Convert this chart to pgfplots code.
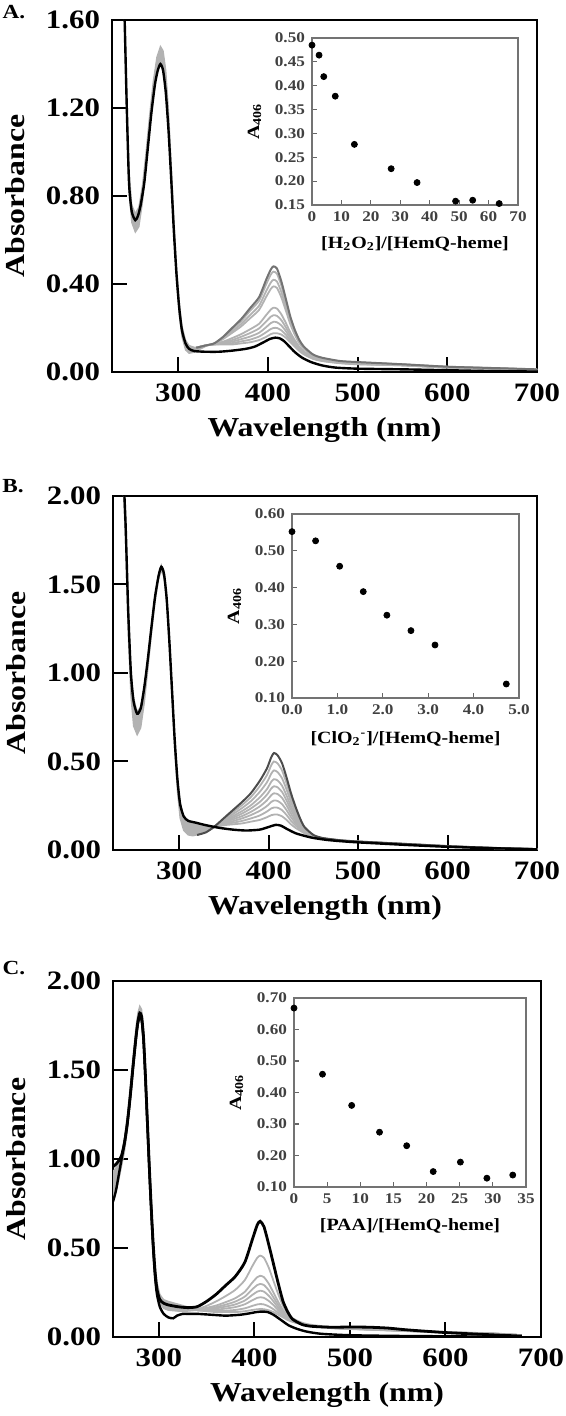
\documentclass[border=0pt]{standalone}
\usepackage{fontspec}
\setmainfont{Liberation Serif}[FakeStretch=1.16]
\usepackage{pgfplots}
\usepackage{pgfplotstable}
\pgfplotsset{compat=1.18}

\pgfplotsset{
 mainax/.style={scale only axis, xmax=700, xtick={300,400,500,600,700},
  tick align=inside, xtick pos=left, ytick pos=left, major tick length=7.5pt,
  axis line style={line width=1.2pt}, tick style={line width=1pt, black},
  /pgf/number format/assume math mode=true,
  ticklabel style={font=\fontsize{13.3}{14}\selectfont\bfseries},
  xticklabel style={yshift=-2.5pt},
  yticklabel style={xshift=-2.5pt, /pgf/number format/fixed, /pgf/number format/fixed zerofill, /pgf/number format/precision=2},
  label style={font=\fontsize{13.7}{15}\selectfont\bfseries},
  ylabel shift=3.5pt, xlabel shift=1pt,
  xlabel={Wavelength (nm)}, ylabel={Absorbance}, clip=true},
 insetax/.style={scale only axis, tick align=inside, xtick pos=left, ytick pos=left,
  major tick length=2.5pt, axis line style={line width=0.6pt, black!55},
  tick style={line width=0.6pt, black!60},
  /pgf/number format/assume math mode=true,
  ticklabel style={font=\fontsize{7.4}{8}\selectfont\bfseries, text=black!75},
  label style={font=\fontsize{8.6}{9}\selectfont\bfseries},
  xlabel shift=0.5pt,
  ylabel={A\textsubscript{406}}, clip=false,
  yticklabel style={/pgf/number format/fixed, /pgf/number format/fixed zerofill, /pgf/number format/precision=2}},
 mydots/.style={only marks, mark=*, mark size=1.5pt, black},
 grayln/.style={black!30, line width=0.9pt, smooth, tension=0.4, no markers},
 blackln/.style={black, line width=1.2pt, smooth, tension=0.4, no markers},
 band/.style={fill=black!30, draw=black!30, line width=0.6pt, no markers},
}

% ---------------- Panel A data ----------------
\pgfplotstableread{
wl a
238 1.95
240 1.62
242.5 1.20
245 0.86
248 0.73
252 0.69
255 0.71
258 0.76
262 0.86
266 1.02
270 1.18
274 1.31
277 1.37
280 1.40
283 1.37
286 1.27
289 1.10
292 0.88
295 0.64
298 0.44
301 0.29
304 0.19
308 0.13
312 0.105
318 0.095
330 0.092
345 0.092
360 0.097
375 0.105
385 0.115
395 0.135
402 0.150
408 0.156
413 0.153
418 0.140
424 0.115
430 0.090
438 0.065
448 0.045
460 0.030
475 0.020
500 0.015
550 0.012
600 0.008
650 0.004
700 0.002
}\finA
% UV band: upper edge left to right, then lower edge right to left
\pgfplotstableread{
wl a
236 2.10
240 1.65
242.5 1.25
245 0.92
248 0.76
252 0.72
256 0.75
260 0.85
264 1.00
268 1.17
272 1.32
276 1.43
280 1.48
283 1.46
286 1.37
289 1.19
292 0.95
295 0.70
298 0.48
301 0.32
304 0.21
308 0.145
312 0.120
318 0.112
325 0.115
330 0.120
330 0.115
325 0.105
318 0.090
312 0.085
308 0.10
304 0.16
301 0.26
298 0.42
295 0.63
292 0.88
289 1.12
286 1.31
283 1.39
280 1.41
276 1.38
272 1.28
268 1.12
264 0.94
260 0.77
256 0.66
252 0.635
248 0.68
245 0.82
242.5 1.15
240 1.58
236 2.05
}\uvA
\pgfplotstableread{
wl  t     g1    g2    g3    g4    g5    g6    g7    z
320 0.110 0.110 0.110 0.110 0.110 0.110 0.110 0.110 0.110
330 0.120 0.120 0.120 0.120 0.120 0.120 0.120 0.120 0.120
340 0.130 0.130 0.129 0.129 0.127 0.126 0.126 0.125 0.125
350 0.160 0.157 0.153 0.150 0.138 0.135 0.131 0.128 0.125
360 0.200 0.194 0.185 0.178 0.154 0.145 0.138 0.131 0.125
370 0.240 0.231 0.218 0.207 0.172 0.160 0.149 0.139 0.130
380 0.290 0.278 0.259 0.244 0.194 0.177 0.161 0.147 0.135
390 0.340 0.324 0.301 0.282 0.219 0.198 0.178 0.161 0.145
398 0.420 0.399 0.368 0.342 0.259 0.230 0.204 0.181 0.160
403 0.465 0.442 0.406 0.377 0.283 0.251 0.222 0.195 0.172
406 0.480 0.456 0.419 0.389 0.292 0.258 0.228 0.200 0.176
410 0.470 0.446 0.411 0.382 0.288 0.255 0.226 0.200 0.176
415 0.410 0.391 0.362 0.338 0.261 0.235 0.211 0.189 0.170
420 0.330 0.316 0.295 0.278 0.222 0.202 0.185 0.169 0.155
425 0.250 0.241 0.227 0.216 0.179 0.166 0.155 0.144 0.135
430 0.190 0.184 0.175 0.168 0.144 0.135 0.128 0.121 0.115
435 0.145 0.141 0.135 0.130 0.114 0.109 0.104 0.099 0.095
440 0.115 0.112 0.108 0.105 0.093 0.090 0.086 0.083 0.080
450 0.080 0.078 0.076 0.074 0.068 0.065 0.063 0.062 0.060
460 0.065 0.064 0.062 0.061 0.056 0.054 0.053 0.051 0.050
480 0.050 0.049 0.048 0.047 0.044 0.043 0.042 0.041 0.040
500 0.045 0.044 0.043 0.042 0.039 0.038 0.037 0.036 0.035
550 0.035 0.035 0.034 0.034 0.032 0.031 0.031 0.030 0.030
600 0.024 0.024 0.023 0.023 0.022 0.021 0.021 0.020 0.020
650 0.018 0.018 0.017 0.017 0.016 0.016 0.015 0.015 0.015
700 0.012 0.012 0.011 0.011 0.011 0.010 0.010 0.010 0.010
}\sorA
\pgfplotstableread{
x y
0 0.485
2.4 0.464
4.0 0.419
7.9 0.378
14.4 0.277
26.9 0.226
35.7 0.197
48.8 0.158
54.6 0.160
63.6 0.153
}\insA

% ---------------- Panel B data ----------------
\pgfplotstableread{
wl a
237 2.20
240 1.85
243 1.35
246 1.00
249 0.84
253 0.77
257 0.80
261 0.92
265 1.08
269 1.26
273 1.43
277 1.55
280 1.60
283 1.56
286 1.42
289 1.18
292 0.90
295 0.62
298 0.40
301 0.26
305 0.19
310 0.165
318 0.155
330 0.140
345 0.125
360 0.115
375 0.110
390 0.115
400 0.130
408 0.142
414 0.137
420 0.120
430 0.095
440 0.080
450 0.068
465 0.057
480 0.050
500 0.043
530 0.035
560 0.027
600 0.018
650 0.010
690 0.005
700 0.004
}\finB
\pgfplotstableread{
wl a
237 2.20
240 1.88
243 1.38
246 1.02
249 0.86
253 0.78
257 0.81
261 0.93
265 1.09
269 1.27
273 1.44
277 1.56
280 1.61
283 1.57
286 1.43
289 1.19
292 0.91
295 0.63
298 0.41
301 0.27
305 0.19
310 0.16
318 0.15
330 0.14
340 0.13
340 0.13
330 0.100
320 0.085
315 0.080
310 0.085
305 0.11
301 0.18
298 0.33
295 0.56
292 0.85
289 1.14
286 1.39
283 1.54
280 1.58
277 1.53
273 1.40
269 1.22
265 1.02
261 0.83
257 0.69
253 0.65
249 0.70
246 0.87
243 1.22
240 1.75
237 2.10
}\uvB
\pgfplotstableread{
wl  t     g1    g2    g3    g4    g5    g6    g7    z
320 0.085 0.086 0.086 0.087 0.087 0.088 0.088 0.089 0.090
330 0.100 0.101 0.103 0.104 0.105 0.107 0.108 0.109 0.110
340 0.135 0.134 0.134 0.133 0.132 0.132 0.131 0.131 0.130
350 0.180 0.175 0.169 0.163 0.158 0.154 0.149 0.145 0.140
360 0.225 0.214 0.202 0.191 0.182 0.173 0.163 0.154 0.145
370 0.270 0.253 0.236 0.219 0.205 0.191 0.178 0.164 0.150
380 0.320 0.298 0.275 0.252 0.234 0.215 0.197 0.178 0.160
390 0.390 0.360 0.328 0.297 0.271 0.246 0.221 0.195 0.170
398 0.460 0.422 0.382 0.343 0.312 0.280 0.248 0.217 0.185
403 0.525 0.480 0.432 0.386 0.348 0.310 0.272 0.235 0.197
406 0.548 0.500 0.450 0.400 0.360 0.320 0.280 0.240 0.200
410 0.535 0.489 0.440 0.393 0.354 0.316 0.277 0.239 0.200
415 0.490 0.449 0.405 0.363 0.328 0.294 0.259 0.225 0.190
420 0.410 0.377 0.342 0.308 0.280 0.253 0.225 0.198 0.170
425 0.320 0.296 0.271 0.246 0.226 0.205 0.185 0.165 0.145
430 0.245 0.228 0.211 0.194 0.180 0.166 0.153 0.139 0.125
435 0.180 0.170 0.160 0.150 0.142 0.134 0.126 0.118 0.110
440 0.130 0.125 0.120 0.115 0.111 0.107 0.103 0.099 0.095
450 0.085 0.084 0.082 0.081 0.080 0.079 0.077 0.076 0.075
460 0.068 0.067 0.067 0.066 0.065 0.065 0.064 0.064 0.063
480 0.055 0.055 0.054 0.054 0.053 0.053 0.053 0.052 0.052
500 0.048 0.048 0.047 0.047 0.047 0.046 0.046 0.046 0.045
550 0.035 0.035 0.035 0.034 0.034 0.034 0.034 0.033 0.033
600 0.022 0.022 0.022 0.021 0.021 0.021 0.021 0.020 0.020
650 0.012 0.012 0.012 0.012 0.011 0.011 0.011 0.011 0.011
700 0.005 0.005 0.005 0.005 0.005 0.005 0.005 0.005 0.005
}\sorB
\pgfplotstableread{
x y
0.00 0.552
0.52 0.527
1.05 0.458
1.57 0.389
2.09 0.325
2.62 0.283
3.15 0.244
4.72 0.138
}\insB

% ---------------- Panel C data ----------------
\pgfplotstableread{
wl a
252 0.957
255 0.97
258 0.99
261 1.02
264 1.09
267 1.20
270 1.35
273 1.52
276 1.68
278 1.77
280 1.82
282 1.80
284 1.68
286 1.46
288 1.21
290 0.96
292 0.73
294 0.53
296 0.37
298 0.27
301 0.21
305 0.19
310 0.18
320 0.17
330 0.165
340 0.17
350 0.20
360 0.24
370 0.29
380 0.34
390 0.42
398 0.55
403 0.63
406 0.650
410 0.62
415 0.52
420 0.41
425 0.30
430 0.20
435 0.14
440 0.10
450 0.07
460 0.06
480 0.055
500 0.056
520 0.055
540 0.050
560 0.040
600 0.025
650 0.012
680 0.005
}\iniC
\pgfplotstableread{
wl a
252 0.76
255 0.82
258 0.91
261 1.00
264 1.09
267 1.20
270 1.35
273 1.52
276 1.68
278 1.76
280 1.80
282 1.78
284 1.66
286 1.44
288 1.19
290 0.94
292 0.71
294 0.50
296 0.34
298 0.24
301 0.17
305 0.13
310 0.11
315 0.105
319 0.12
325 0.13
330 0.13
340 0.13
355 0.125
370 0.12
385 0.125
395 0.133
402 0.140
408 0.143
414 0.140
420 0.125
428 0.095
436 0.065
445 0.045
455 0.030
470 0.018
500 0.010
550 0.006
600 0.004
650 0.002
680 0.001
}\finC
\pgfplotstableread{
wl a
252 0.93
255 0.95
258 0.98
261 1.03
264 1.12
267 1.25
270 1.41
273 1.58
276 1.74
278 1.82
280 1.86
282 1.84
284 1.72
286 1.50
288 1.25
290 1.00
292 0.77
294 0.57
296 0.41
298 0.31
301 0.24
305 0.21
310 0.20
320 0.185
330 0.17
340 0.16
340 0.15
330 0.145
320 0.145
310 0.15
305 0.16
301 0.19
298 0.24
296 0.33
294 0.48
292 0.68
290 0.91
288 1.16
286 1.41
284 1.63
282 1.76
280 1.79
278 1.75
276 1.66
273 1.50
270 1.32
267 1.16
264 1.04
261 0.96
258 0.88
255 0.81
252 0.78
}\uvC
\pgfplotstableread{
wl  t     g1    g2    g3    g4    g5    z
340 0.155 0.153 0.152 0.152 0.151 0.150 0.150
350 0.175 0.164 0.159 0.155 0.152 0.148 0.145
360 0.200 0.177 0.168 0.161 0.153 0.146 0.140
370 0.230 0.196 0.182 0.171 0.160 0.148 0.140
380 0.265 0.218 0.199 0.183 0.168 0.152 0.140
390 0.320 0.254 0.227 0.205 0.184 0.161 0.145
398 0.400 0.307 0.269 0.237 0.207 0.175 0.152
403 0.445 0.336 0.292 0.255 0.220 0.183 0.156
406 0.457 0.344 0.298 0.260 0.223 0.185 0.157
410 0.445 0.336 0.292 0.255 0.220 0.183 0.156
415 0.390 0.300 0.263 0.232 0.203 0.172 0.150
420 0.315 0.249 0.222 0.200 0.179 0.156 0.140
425 0.240 0.197 0.179 0.164 0.150 0.136 0.125
430 0.175 0.151 0.141 0.132 0.124 0.116 0.110
435 0.130 0.117 0.112 0.107 0.103 0.098 0.095
440 0.105 0.098 0.094 0.092 0.089 0.087 0.085
450 0.080 0.076 0.075 0.073 0.072 0.071 0.070
460 0.068 0.065 0.064 0.063 0.062 0.061 0.060
480 0.056 0.054 0.053 0.052 0.051 0.051 0.050
500 0.050 0.049 0.048 0.047 0.046 0.046 0.045
550 0.040 0.039 0.038 0.037 0.036 0.036 0.035
600 0.028 0.027 0.027 0.026 0.026 0.025 0.025
650 0.020 0.019 0.019 0.019 0.018 0.018 0.018
680 0.010 0.010 0.010 0.010 0.010 0.010 0.010
}\sorC
\pgfplotstableread{
x y
0 0.668
4.3 0.458
8.7 0.359
12.9 0.274
17.0 0.231
21.0 0.149
25.1 0.179
29.1 0.128
33.0 0.138
}\insC

\begin{document}
\begin{tikzpicture}
\path[use as bounding box] (0,0) rectangle (283pt,708pt);

% ================= Panel A =================
\begin{axis}[mainax, at={(56pt,522pt)}, anchor=south west, width=212.5pt, height=176pt,
  xmin=226, ymin=0, ymax=1.6, ytick={0,0.4,0.8,1.2,1.6}]
\addplot[band] table[x=wl,y=a] {\uvA} -- cycle;
\pgfplotsinvokeforeach{z,g7,g6,g5,g4,g3,g2,g1}{
  \addplot[grayln] table[x=wl,y=#1] {\sorA};
}
\addplot[black!55, line width=1pt, smooth, tension=0.4, no markers] table[x=wl,y=t] {\sorA};
\addplot[blackln] table[x=wl,y=a] {\finA};
\end{axis}
\begin{axis}[insetax, at={(156pt,605.5pt)}, anchor=south west, width=103pt, height=83.5pt,
  xmin=0, xmax=70, ymin=0.15, ymax=0.50, xtick={0,10,20,30,40,50,60,70},
  ytick={0.15,0.2,0.25,0.3,0.35,0.4,0.45,0.5},
  xlabel={[H\textsubscript{2}O\textsubscript{2}]/[HemQ-heme]}]
\addplot[mydots] table[x=x,y=y] {\insA};
\end{axis}
\node[font=\fontsize{10}{11}\selectfont\bfseries] at (7pt,702pt) {A.};

% ================= Panel B =================
\begin{axis}[mainax, at={(56.5pt,283pt)}, anchor=south west, width=212pt, height=177pt,
  xmin=226, ymin=0, ymax=2, ytick={0,0.5,1,1.5,2}]
\addplot[band] table[x=wl,y=a] {\uvB} -- cycle;
\pgfplotsinvokeforeach{z,g7,g6,g5,g4,g3,g2,g1}{
  \addplot[grayln] table[x=wl,y=#1] {\sorB};
}
\addplot[black!70, line width=1pt, smooth, tension=0.4, no markers] table[x=wl,y=t] {\sorB};
\addplot[blackln] table[x=wl,y=a] {\finB};
\end{axis}
\begin{axis}[insetax, at={(146pt,359pt)}, anchor=south west, width=113.5pt, height=92pt,
  xmin=0, xmax=5, ymin=0.10, ymax=0.60, xtick={0,1,2,3,4,5},
  ytick={0.1,0.2,0.3,0.4,0.5,0.6},
  xticklabel style={/pgf/number format/fixed, /pgf/number format/fixed zerofill, /pgf/number format/precision=1},
  xlabel shift=1.5pt,
  xlabel={[ClO\textsubscript{2}\textsuperscript{-}]/[HemQ-heme]}]
\addplot[mydots] table[x=x,y=y] {\insB};
\end{axis}
\node[font=\fontsize{10}{11}\selectfont\bfseries] at (6.5pt,465pt) {B.};

% ================= Panel C =================
\begin{axis}[mainax, at={(56.5pt,39.5pt)}, anchor=south west, width=214pt, height=178pt,
  xmin=252, ymin=0, ymax=2, ytick={0,0.5,1,1.5,2}]
\addplot[band] table[x=wl,y=a] {\uvC} -- cycle;
\pgfplotsinvokeforeach{z,g5,g4,g3,g2,g1,t}{
  \addplot[grayln] table[x=wl,y=#1] {\sorC};
}
\addplot[blackln] table[x=wl,y=a] {\finC};
\addplot[blackln, line width=1.4pt] table[x=wl,y=a] {\iniC};
\end{axis}
\begin{axis}[insetax, at={(147pt,114.5pt)}, anchor=south west, width=116pt, height=94.5pt,
  xmin=0, xmax=35, ymin=0.10, ymax=0.70, xtick={0,5,10,15,20,25,30,35},
  ytick={0.1,0.2,0.3,0.4,0.5,0.6,0.7},
  xlabel={[PAA]/[HemQ-heme]}]
\addplot[mydots] table[x=x,y=y] {\insC};
\end{axis}
\node[font=\fontsize{10}{11}\selectfont\bfseries] at (7pt,224pt) {C.};
\end{tikzpicture}
\end{document}
